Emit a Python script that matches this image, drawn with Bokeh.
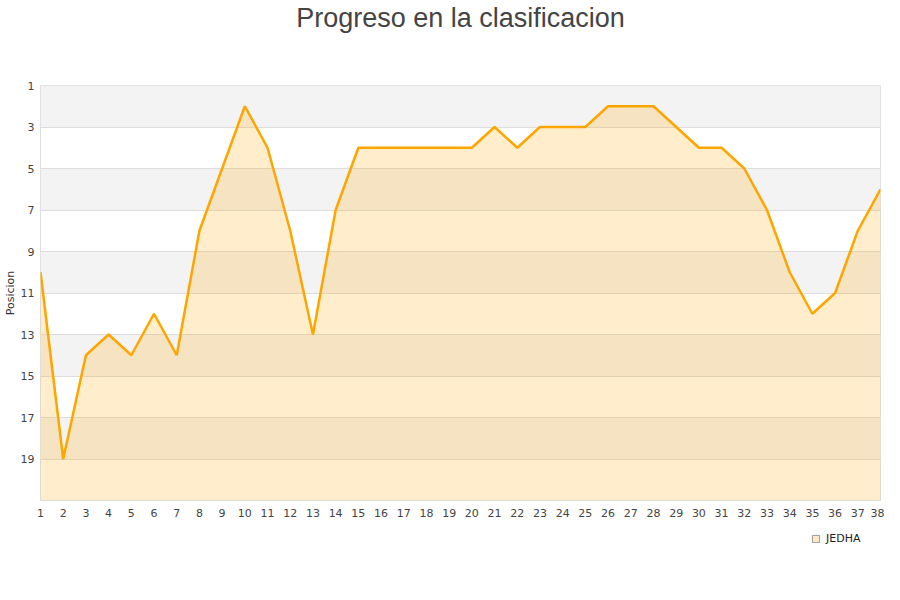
from bokeh.plotting import figure
from bokeh.layouts import column
from bokeh.models import Range1d, FixedTicker, BoxAnnotation, Legend, LegendItem, Title
from bokeh.embed import file_html
from bokeh.resources import INLINE

jornadas = list(range(1, 39))
posiciones = [10, 19, 14, 13, 14, 12, 14, 8, 5, 2, 4, 8, 13, 7, 4, 4, 4, 4, 4, 4,
              3, 4, 3, 3, 3, 2, 2, 2, 3, 4, 4, 5, 7, 10, 12, 11, 8, 6]
y_ticks = [1, 3, 5, 7, 9, 11, 13, 15, 17, 19]
y_min, y_max = 1, 21
title_text = "Progreso en la clasificacion"
serie = "JEDHA"

fig = figure(width=884, height=530, output_backend="svg", toolbar_location=None, title=None,
             x_range=Range1d(1, 38), y_range=Range1d(y_max, y_min),
             min_border_left=40, min_border_right=4, min_border_top=0, min_border_bottom=30)
fig.background_fill_color = "white"
fig.border_fill_color = "white"
fig.outline_line_color = "#dddddd"

spacer = Title(text=" ", text_font_size="45px", standoff=0)
main_title = Title(text=title_text, align="center", offset=-11, text_font="Liberation Sans",
                   text_font_size="27px", text_font_style="normal", text_color="#444444", standoff=0)
fig.add_layout(spacer, "above")
fig.add_layout(main_title, "above")

# alternating bands
for lo in range(y_min, y_max - 1, 4):
    fig.add_layout(BoxAnnotation(bottom=lo, top=lo + 2, fill_color="#f3f3f3", fill_alpha=1,
                                 line_color=None, level="image"))

fig.xgrid.visible = False
fig.ygrid.grid_line_color = "#dddddd"
fig.ygrid.ticker = FixedTicker(ticks=y_ticks)

fig.varea(x=jornadas, y1=posiciones, y2=[y_max] * len(jornadas), fill_color="orange", fill_alpha=0.2)
fig.line(x=jornadas, y=posiciones, line_color="orange", line_width=2.5)

fig.xaxis.ticker = FixedTicker(ticks=jornadas)
fig.yaxis.ticker = FixedTicker(ticks=y_ticks)
for ax in (fig.xaxis[0], fig.yaxis[0]):
    ax.axis_line_color = None
    ax.major_tick_line_color = None
    ax.minor_tick_line_color = None
    ax.major_tick_out = 0
    ax.major_tick_in = 0
    ax.minor_tick_out = 0
    ax.minor_tick_in = 0
    ax.major_label_text_font = "DejaVu Sans"
    ax.major_label_text_font_size = "11px"
    ax.major_label_text_color = "#444444"
fig.xaxis.major_label_standoff = 8
fig.yaxis.major_label_standoff = 6
fig.yaxis.axis_label = "Posicion"
fig.yaxis.axis_label_text_font = "DejaVu Sans"
fig.yaxis.axis_label_text_font_size = "11px"
fig.yaxis.axis_label_text_font_style = "normal"
fig.yaxis.axis_label_text_color = "#333333"
fig.yaxis.axis_label_standoff = 1

# legend strip
leg = figure(width=884, height=54, output_backend="svg", toolbar_location=None,
             x_range=Range1d(0, 1), y_range=Range1d(0, 1), min_border=0)
leg.axis.visible = False
leg.grid.visible = False
leg.outline_line_color = None
leg.background_fill_color = "white"
leg.border_fill_color = "white"
nan = float("nan")
dummy = leg.quad(left=[nan], right=[nan], top=[nan], bottom=[nan], fill_color="#fde9c4",
                 line_color="#999999", line_width=1)
legend = Legend(items=[LegendItem(label=serie, renderers=[dummy])], location=(771, 39),
                border_line_color=None, background_fill_alpha=0, padding=0, margin=0,
                glyph_width=9, glyph_height=9, label_standoff=6,
                label_text_font="DejaVu Sans", label_text_font_size="11px", label_text_color="#222222")
leg.add_layout(legend, "center")

p = column(fig, leg, spacing=0)
open("out.html", "w").write(file_html(p, INLINE))
